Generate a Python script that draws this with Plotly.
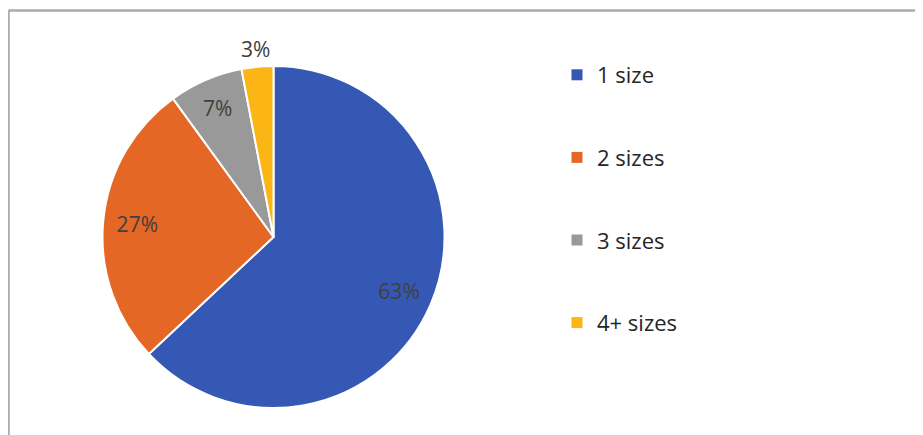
import plotly.graph_objects as go

categories = ["1 size", "2 sizes", "3 sizes", "4+ sizes"]
values = [63, 27, 7, 3]
colors = ["#3558B4", "#E46726", "#999999", "#FBB515"]
inner_labels = ["%{percent:.0%}", "%{percent:.0%}", "%{percent:.0%}", ""]
outer_labels = ["", "", "", "%{percent:.0%}"]

W, H = 923, 435
cx, cy, r = 265.5, 229, 171
R_out = 206


def domain(rad):
    return dict(x=[(cx - rad) / W, (cx + rad) / W], y=[(H - cy - rad) / H, (H - cy + rad) / H])


fig = go.Figure()
# coloured slices
fig.add_trace(go.Pie(
    labels=categories,
    values=values,
    sort=False,
    direction="clockwise",
    rotation=0,
    marker=dict(colors=colors, line=dict(color="white", width=2)),
    textinfo="none",
    showlegend=False,
    hoverinfo="label+percent",
    domain=domain(r),
))
# transparent ring that carries the inside percentage labels (toward the rim)
fig.add_trace(go.Pie(
    labels=categories,
    values=values,
    sort=False,
    direction="clockwise",
    rotation=0,
    hole=0.6,
    marker=dict(colors=["rgba(0,0,0,0)"] * len(values), line=dict(width=0)),
    texttemplate=inner_labels,
    textposition="inside",
    insidetextorientation="horizontal",
    textfont=dict(family="Open Sans", size=21, color="#404040"),
    showlegend=False,
    hoverinfo="skip",
    domain=domain(r),
))
# transparent outer ring carrying the small-slice label just outside the pie
fig.add_trace(go.Pie(
    labels=categories,
    values=values,
    sort=False,
    direction="clockwise",
    rotation=0,
    hole=r / R_out,
    marker=dict(colors=["rgba(0,0,0,0)"] * len(values), line=dict(width=0)),
    texttemplate=outer_labels,
    textposition="inside",
    insidetextorientation="horizontal",
    textfont=dict(family="Open Sans", size=21, color="#404040"),
    showlegend=False,
    hoverinfo="skip",
    domain=domain(R_out),
))

for i, (cat, col) in enumerate(zip(categories, colors)):
    fig.add_trace(go.Scatter(
        x=[None], y=[None], mode="markers", name=cat,
        marker=dict(symbol="square", size=11, color=col),
        legendgroup=f"g{i}", showlegend=True,
    ))

fig.update_layout(
    width=W, height=H,
    margin=dict(l=0, r=0, t=0, b=0),
    paper_bgcolor="white", plot_bgcolor="white",
    xaxis=dict(visible=False), yaxis=dict(visible=False),
    uniformtext=dict(minsize=21, mode="show"),
    legend=dict(
        x=549 / W, xanchor="left", y=1 - 46 / H, yanchor="top",
        font=dict(family="Open Sans", size=22, color="#262626"),
        tracegroupgap=51, bgcolor="rgba(0,0,0,0)",
    ),
    shapes=[
        dict(type="line", xref="paper", yref="paper", x0=0.5 / W, x1=1, y0=1 - 2.5 / H, y1=1 - 2.5 / H,
             line=dict(color="#ABABAB", width=2.5)),
        dict(type="line", xref="paper", yref="paper", x0=0.5 / W, x1=0.5 / W, y0=0, y1=1 - 2.5 / H,
             line=dict(color="#ABABAB", width=2.5)),
    ],
)

fig.write_html("out.html")
